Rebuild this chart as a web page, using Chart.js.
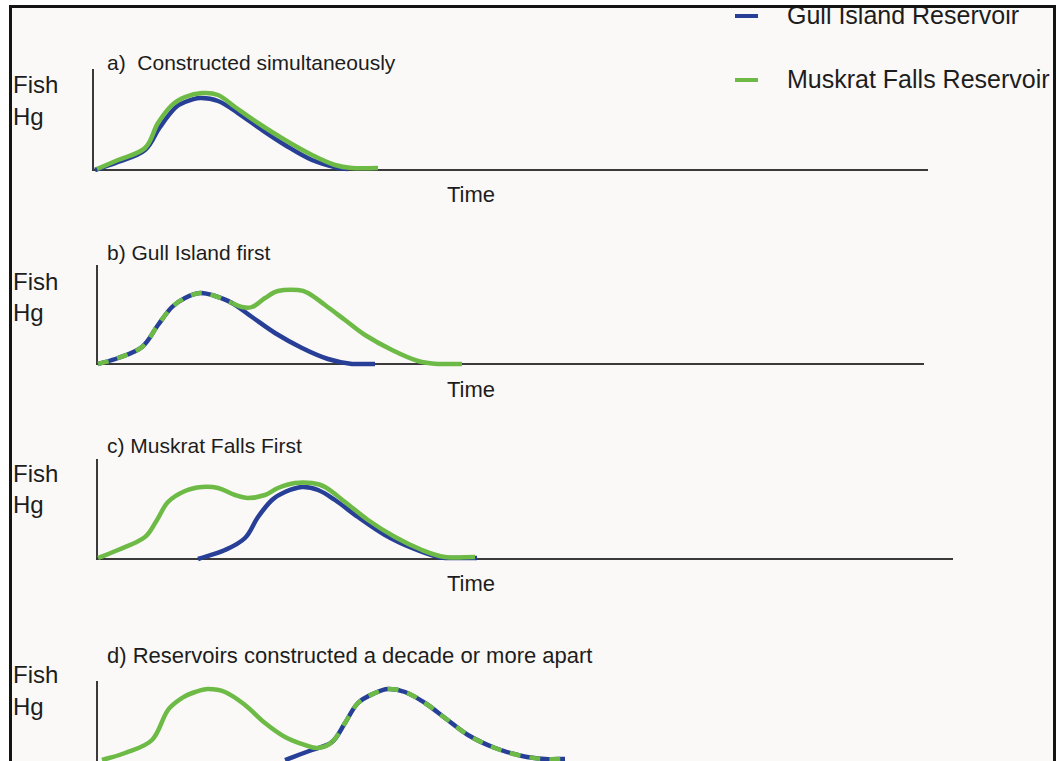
<!DOCTYPE html>
<html>
<head>
<meta charset="utf-8">
<script src="https://cdn.jsdelivr.net/npm/chart.js@4.4.1/dist/chart.umd.min.js"></script>
<style>
  html, body { margin: 0; padding: 0; background: #fff; }
  #stage {
    position: absolute; left: 0; top: 0; width: 1058px; height: 761px;
    overflow: hidden; background: #fff;
    font-family: "Liberation Sans", Arial, sans-serif; color: #1d1d1d;
  }
  #paper {
    position: absolute; left: 0; top: 0; width: 1058px; height: 761px;
    background: #fbf9f7; clip-path: inset(8px 5px 0 12px);
  }
  #frame {
    position: absolute; left: 9px; top: 5px; width: 1047px; height: 800px;
    box-sizing: border-box; border: 3px solid #141414; border-bottom: none;
    pointer-events: none;
  }
  .txt { position: absolute; white-space: nowrap; line-height: 1; }
  .ylab { font-size: 24px; left: 13px; }
  .ttl { font-size: 21px; left: 107px; }
  .time { font-size: 22px; left: 447px; }
  .leg { font-size: 25px; left: 787px; }
  .dash { position: absolute; left: 735px; width: 23px; height: 4px; }
  .plot { position: absolute; }
</style>
</head>
<body>
<div id="stage">
  <div id="paper">
    <div class="dash" style="top:14px;background:#283f98"></div>
    <div class="txt leg" style="top:3px">Gull Island Reservoir</div>
    <div class="dash" style="top:78px;background:#6dbb46"></div>
    <div class="txt leg" style="top:67px">Muskrat Falls Reservoir</div>

    <div class="txt ttl" style="top:52px">a)&nbsp; Constructed simultaneously</div>
    <div class="txt ylab" style="top:73px">Fish</div>
    <div class="txt ylab" style="top:105px">Hg</div>
    <div class="txt time" style="top:184px">Time</div>

    <div class="txt ttl" style="top:242px">b) Gull Island first</div>
    <div class="txt ylab" style="top:270px">Fish</div>
    <div class="txt ylab" style="top:301px">Hg</div>
    <div class="txt time" style="top:379px">Time</div>

    <div class="txt ttl" style="top:435px">c) Muskrat Falls First</div>
    <div class="txt ylab" style="top:462px">Fish</div>
    <div class="txt ylab" style="top:493px">Hg</div>
    <div class="txt time" style="top:573px">Time</div>

    <div class="txt ttl" style="top:645px;font-size:22px">d) Reservoirs constructed a decade or more apart</div>
    <div class="txt ylab" style="top:663px">Fish</div>
    <div class="txt ylab" style="top:695px">Hg</div>

    <div class="plot" id="wrapA"><canvas id="chartA"></canvas></div>
    <div class="plot" id="wrapB"><canvas id="chartB"></canvas></div>
    <div class="plot" id="wrapC"><canvas id="chartC"></canvas></div>
    <div class="plot" id="wrapD"><canvas id="chartD"></canvas></div>
  </div>
  <div id="frame"></div>
</div>

<script>
  // Read-off values: time in arbitrary units, fish Hg in arbitrary units.
  // ── a) Constructed simultaneously ──
  var aMuskratTime = [0.4, 2.5, 5.2, 6.5, 7.9, 9.2, 10.9, 12.5, 14.2, 16.5, 19.2, 21.9, 24.2, 25.9, 28.5];
  var aMuskratHg   = [1, 10, 22, 47, 65, 73, 77, 75, 63, 47, 30, 15, 5, 2, 2];
  var aGullTime    = [0.2, 2.5, 5.2, 6.7, 8.2, 9.2, 10.7, 12.5, 14.5, 16.9, 19.2, 21.9, 24.5, 25.5];
  var aGullHg      = [0, 8, 20, 43, 62, 68, 72, 69, 57, 40, 25, 10, 2, 1];

  // ── b) Gull Island first ──
  var bMuskratTime = [0.1, 2.1, 4.5, 6.1, 7.5, 8.8, 10.3, 11.8, 13.5, 14.5, 15.5, 16.8, 18.1, 20.1, 21.1, 22.8, 24.8, 26.8, 29.5, 32.1, 34.1, 36.5];
  var bMuskratHg   = [0, 6, 17, 39, 57, 66, 71, 68, 61, 57, 57, 66, 73, 74, 71, 59, 44, 29, 14, 3, 0, 0];
  var bGullTime    = [0.1, 2.1, 4.5, 6.1, 7.5, 8.8, 10.3, 11.8, 13.5, 15.5, 17.8, 20.5, 23.1, 25.5, 27.8];
  var bGullHg      = [0, 6, 17, 39, 57, 66, 71, 68, 61, 47, 31, 16, 5, 0, 0];
  var bSharedUntil = 8;   // point index where the two curves part

  // ── c) Muskrat Falls first ──
  var cMuskratTime = [0.1, 2.1, 4.8, 6.0, 7.1, 8.8, 10.5, 12.1, 13.8, 15.1, 16.8, 18.1, 19.8, 21.5, 22.8, 24.8, 27.1, 29.8, 32.5, 34.8, 37.8];
  var cMuskratHg   = [1, 9, 22, 39, 57, 68, 72, 71, 64, 61, 64, 71, 76, 76, 72, 57, 39, 22, 9, 2, 2];
  var cGullTime    = [10.1, 12.8, 14.8, 16.1, 17.5, 18.8, 20.5, 22.1, 23.8, 26.1, 28.8, 31.5, 34.1, 35.5, 38.0];
  var cGullHg      = [0, 9, 21, 42, 59, 67, 72, 69, 59, 42, 24, 11, 2, 1, 1];

  // ── d) Reservoirs constructed a decade or more apart ──
  var dMuskratTime = [0.5, 2.8, 5.5, 7.1, 8.5, 9.8, 11.1, 12.8, 14.8, 16.8, 18.8, 20.8, 22.1, 23.5, 24.8, 26.1, 27.8, 29.1, 30.8, 32.8, 34.8, 37.1, 39.8, 42.5, 44.8, 46.8];
  var dMuskratHg   = [4, 11, 24, 54, 66, 72, 75, 72, 59, 41, 27, 19, 16, 22, 41, 61, 71, 75, 72, 61, 46, 29, 16, 8, 5, 5];
  var dGullTime    = [18.8, 21.5, 23.5, 24.8, 26.1, 27.8, 29.1, 30.8, 32.8, 34.8, 37.1, 39.8, 42.5, 44.8, 46.8];
  var dGullHg      = [4, 14, 22, 41, 61, 71, 75, 72, 61, 46, 29, 16, 8, 5, 5];
  var dSharedFrom  = 13;

  var BLUE = "#283f98";
  var GREEN = "#6dbb46";
  var AXIS = "#3a3a3a";
  var PAD = 6;

  function pts(t, v) {
    return t.map(function (x, i) { return { x: x, y: v[i] }; });
  }

  // left/top/right/bottom of each axis box on the page, plus axis ranges
  var panels = [
    { id: "A", left: 93, top: 70, right: 927, bottom: 170, xMax: 83.4, yMax: 100,
      green: pts(aMuskratTime, aMuskratHg), blue: pts(aGullTime, aGullHg), dashed: null },
    { id: "B", left: 97, top: 266, right: 923, bottom: 364, xMax: 82.6, yMax: 98,
      green: pts(bMuskratTime, bMuskratHg), blue: pts(bGullTime, bGullHg),
      dashed: function (i) { return i < bSharedUntil; } },
    { id: "C", left: 97, top: 460, right: 952, bottom: 559, xMax: 85.5, yMax: 99,
      green: pts(cMuskratTime, cMuskratHg), blue: pts(cGullTime, cGullHg), dashed: null },
    { id: "D", left: 97, top: 682, right: 940, bottom: 764, xMax: 84.3, yMax: 82,
      green: pts(dMuskratTime, dMuskratHg), blue: pts(dGullTime, dGullHg),
      dashed: function (i) { return i >= dSharedFrom; } }
  ];

  panels.forEach(function (p) {
    var wrap = document.getElementById("wrap" + p.id);
    wrap.style.left = (p.left - PAD) + "px";
    wrap.style.top = (p.top - PAD) + "px";
    wrap.style.width = (p.right - p.left + 2 * PAD) + "px";
    wrap.style.height = (p.bottom - p.top + 2 * PAD) + "px";

    var greenSet = {
      label: "Muskrat Falls Reservoir",
      data: p.green,
      borderColor: GREEN,
      borderWidth: 4.5,
      pointRadius: 0,
      tension: 0.35,
      clip: false,
      borderCapStyle: "butt"
    };
    if (p.dashed) {
      greenSet.segment = {
        borderDash: function (ctx) { return p.dashed(ctx.p0DataIndex) ? [11, 9] : undefined; }
      };
    }

    new Chart(document.getElementById("chart" + p.id), {
      type: "line",
      data: {
        datasets: [
          greenSet,
          {
            label: "Gull Island Reservoir",
            data: p.blue,
            borderColor: BLUE,
            borderWidth: 4.5,
            pointRadius: 0,
            tension: 0.35,
            clip: false
          }
        ]
      },
      options: {
        responsive: true,
        maintainAspectRatio: false,
        animation: false,
        events: [],
        layout: { padding: PAD },
        plugins: { legend: { display: false }, tooltip: { enabled: false } },
        scales: {
          x: {
            type: "linear", min: 0, max: p.xMax,
            ticks: { display: false },
            grid: { display: false, drawTicks: false },
            border: { display: true, color: AXIS, width: 2 }
          },
          y: {
            type: "linear", min: 0, max: p.yMax,
            ticks: { display: false },
            grid: { display: false, drawTicks: false },
            border: { display: true, color: AXIS, width: 2 }
          }
        }
      }
    });
  });
</script>
</body>
</html>
